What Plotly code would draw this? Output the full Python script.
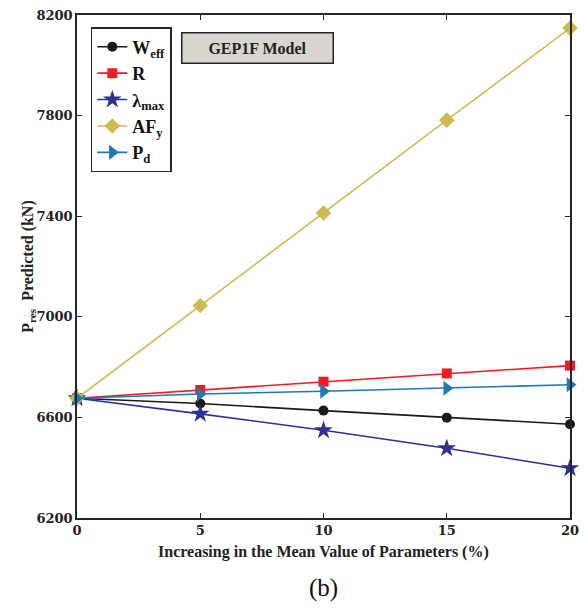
import plotly.graph_objects as go

x_vals = [0, 5, 10, 15, 20]
w_eff = [6676, 6655, 6627, 6599, 6573]
r_vals = [6676, 6709, 6742, 6775, 6806]
lam_max = [6676, 6614, 6549, 6477, 6398]
af_y = [6676, 7045, 7413, 7782, 8148]
p_d = [6676, 6693, 6704, 6716, 6730]

series = [
    ("<b>W<sub>eff</sub></b>", w_eff, "#1a1a1a", "circle", 10),
    ("<b>R</b>", r_vals, "#ee1c25", "square", 10),
    ("<b>λ<sub>max</sub></b>", lam_max, "#2e3192", "star", 14),
    ("<b>AF<sub>y</sub></b>", af_y, "#c9bd52", "diamond", 12),
    ("<b>P<sub>d</sub></b>", p_d, "#2278b0", "triangle-right", 13),
]

fig = go.Figure()
for name, vals, col, sym, sz in series:
    fig.add_trace(go.Scatter(
        x=x_vals, y=vals, name=name, mode="lines+markers",
        line=dict(color=col, width=1.6),
        marker=dict(symbol=sym, size=sz, color=col, line=dict(width=0)),
        cliponaxis=False,
    ))

tick_font = "DejaVu Serif"
text_font = "Liberation Serif"
axis_common = dict(
    showline=True, linecolor="#262626", linewidth=1.5, mirror="ticks",
    ticks="inside", ticklen=5, tickcolor="#262626", tickwidth=1.2,
    showgrid=False, zeroline=False,
    tickfont=dict(family=tick_font, size=13, color="#222", weight="bold"),
)

fig.update_layout(
    width=586, height=609,
    margin=dict(l=77, r=16, t=15, b=91, autoexpand=False),
    paper_bgcolor="white", plot_bgcolor="white",
    font=dict(family=text_font, color="#222"),
    xaxis=dict(range=[0, 20], tickvals=[0, 5, 10, 15, 20], **axis_common),
    yaxis=dict(range=[6200, 8200], tickvals=[6200, 6600, 7000, 7400, 7800, 8200],
               **axis_common),
    legend=dict(
        x=0.028, y=0.976, xanchor="left", yanchor="top",
        bgcolor="white", bordercolor="#262626", borderwidth=1.5,
        font=dict(family=text_font, size=18, color="#111"),
        itemwidth=30, tracegroupgap=0,
    ),
    showlegend=True,
)

# x-axis title
fig.add_annotation(
    x=0.5, y=-0.068, xref="paper", yref="paper", xanchor="center", yanchor="middle",
    text="<b>Increasing in the Mean Value of Parameters (%)</b>", showarrow=False,
    font=dict(family=text_font, size=16, color="#222"),
)
# y-axis title
fig.add_annotation(
    x=-0.099, y=0.5, xref="paper", yref="paper", xanchor="center", yanchor="middle",
    text="<b>P<sub>res</sub>  Predicted (kN)</b>", showarrow=False, textangle=-90,
    font=dict(family=text_font, size=16, color="#222"),
)

fig.add_annotation(
    x=0.211, y=0.966, xref="paper", yref="paper", xanchor="left", yanchor="top",
    text="<b>GEP1F Model</b>", showarrow=False,
    font=dict(family=text_font, size=16, color="#222"),
    bgcolor="#d9d6d0", bordercolor="#262626", borderwidth=1.5,
    width=148, height=27,
)

fig.add_annotation(
    x=0.5, y=-0.139, xref="paper", yref="paper", xanchor="center", yanchor="middle",
    text="(b)", showarrow=False,
    font=dict(family=text_font, size=25, color="#111"),
)

fig.write_html("out.html")
